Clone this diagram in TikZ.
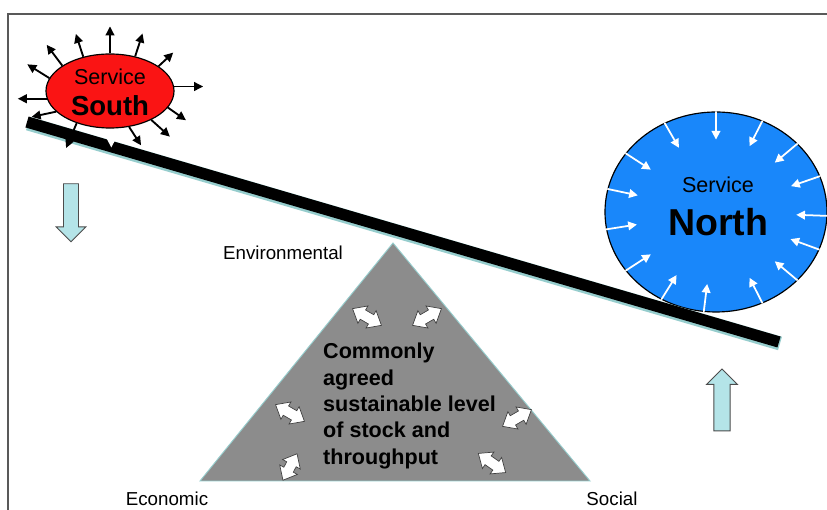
\documentclass[tikz,border=0pt]{standalone}
\usepackage{fontspec}
\setmainfont{Liberation Sans}
\usepackage{xcolor}
\usepackage{tikz}
\usetikzlibrary{arrows.meta, positioning, shapes.geometric, shapes.arrows, calc}
\definecolor{serv_red}{RGB}{250, 20, 20}
\definecolor{serv_blue}{RGB}{25, 135, 250}
\definecolor{lift_cyan}{RGB}{180, 228, 232}
\definecolor{pyr_gray}{RGB}{140, 140, 140}
\definecolor{edge_teal}{RGB}{150, 205, 205}

\begin{document}
\begin{tikzpicture}[x=0.03cm, y=0.03cm,
        blob/.style={ellipse, draw=black, line width=1pt, inner sep=0pt},
        outward/.style={-{Triangle[length=0.27cm, width=0.26cm]}, line width=1.6pt},
        inward/.style={-{Triangle[length=0.26cm, width=0.26cm]}, line width=1.5pt, white},
        shiftarrow/.style={single arrow, draw=black!70, fill=lift_cyan, line width=0.8pt,
                   single arrow head extend=0.22cm, minimum width=0pt},
        tradeoff/.style={double arrow, draw=black!75, fill=white, line width=0.6pt,
                   inner sep=0.15cm, double arrow head extend=0.14cm,
                   double arrow tip angle=80, minimum height=1.0cm, minimum width=0pt},
        lbl/.style={font=\fontsize{16}{19}\selectfont},
      ]
        \useasboundingbox[fill=white] (0,0) rectangle (827,510);

        % frame
        \draw[black!65, line width=1.3pt] (8,0) -- (8,496) -- (827,496);

        % pyramid
        \coordinate (env) at (393,267);
        \coordinate (eco) at (200,29);
        \coordinate (soc) at (590,29);
        \filldraw[fill=pyr_gray, draw=edge_teal, line width=0.8pt] (env) -- (eco) -- (soc) -- cycle;

        \node[tradeoff, rotate=-30] (t1) at (367,193) {};
        \node[tradeoff, rotate=30] (t2) at (427,193) {};
        \node[tradeoff, rotate=-30] (t3) at (290,97) {};
        \node[tradeoff, rotate=30] (t4) at (517,92) {};
        \node[tradeoff, rotate=62, minimum height=0.9cm] (t5) at (290,43) {};
        \node[tradeoff, rotate=-35] (t6) at (492,47) {};

        \node[font=\bfseries\fontsize{18.4}{22.5}\selectfont, align=left,
              anchor=north west, inner sep=0pt] (goal) at (323,167)
          {Commonly\\agreed\\sustainable level\\of stock and\\throughput};

        \node[lbl, anchor=base] (envlbl) at (283,250) {Environmental};
        \node[lbl, anchor=base] (ecolbl) at (167,4) {Economic};
        \node[lbl, anchor=base] (soclbl) at (612,4) {Social};

        % the two services
        \node[blob, fill=serv_blue, minimum width=6.66cm, minimum height=6cm] (northblob) at (716,298) {};
        \node[blob, fill=serv_red, minimum width=3.84cm, minimum height=2.22cm] (southblob) at (110,419) {};

        % beam
        \coordinate (beamL) at (27,388);
        \coordinate (beamR) at (779,168);
        \draw[edge_teal, line width=0.42cm] ([shift={(1,-1.5)}]beamL) -- ([shift={(1,-1.5)}]beamR);
        \draw[black, line width=0.34cm] (beamL) -- (beamR);

        % radiating arrows
        \foreach \a/\d/\l in {90/90/27, 54/72/24, 27/43/20, 4/0/29, -16/-35/22, -35/-42/25,
                             -62/-57/22, 224/247/27, 201/192/25, 187/180/29, 168/148/26,
                             152/127/26, 128/108/24}
          \draw[outward] (southblob.\a) -- ++(\d:\l);
        \draw[outward, white] (southblob.-88) -- ++(-90:19);

        \foreach \a in {90, 63, 40, 19, -2, -20, -40, -63, 263, 238, 213, 189, 168, 147, 120}
          \draw[inward] (northblob.\a) -- ($(northblob.\a)!0.28!(northblob.center)$);

        \node[align=center, font=\fontsize{18.4}{27}\selectfont] (southtxt) at (110,417.5)
          {Service\\{\fontsize{23.5}{27}\selectfont\bfseries South}};
        \node[align=center, font=\fontsize{18.4}{36.7}\selectfont] (northtxt) at (718,304)
          {Service\\{\fontsize{32}{36.7}\selectfont\bfseries North}};

        % tilt arrows
        \node[shiftarrow, rotate=-90, inner sep=0.21cm, minimum height=1.74cm] (down) at (71,301) {};
        \node[shiftarrow, rotate=90, inner sep=0.23cm, minimum height=1.86cm] (up) at (722,106) {};
      \end{tikzpicture}
\end{document}
